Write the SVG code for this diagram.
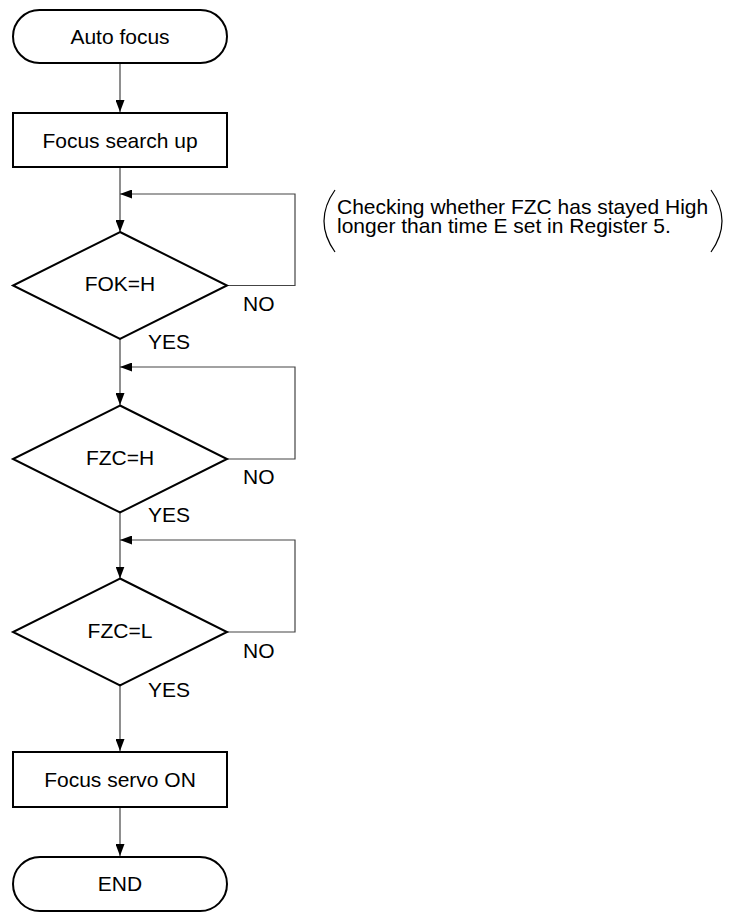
<svg xmlns="http://www.w3.org/2000/svg" width="732" height="913" viewBox="0 0 732 913">
<defs>
<style>
.shape{fill:#fff;stroke:#000;stroke-width:2}
.line{fill:none;stroke:#444;stroke-width:1.2}
text{font-family:"Liberation Sans",Arial,sans-serif;font-size:21px;fill:#000}
.c{text-anchor:middle}
</style>
<marker id="ah" viewBox="0 0 12 9" refX="12" refY="4.5" markerWidth="12" markerHeight="9" markerUnits="userSpaceOnUse" orient="auto">
<path d="M0,0 L12,4.5 L0,9 Z" fill="#000"/>
</marker>
</defs>
<rect width="732" height="913" fill="#fff"/>
<g id="connectors">
<path class="line" d="M120,63 V112" marker-end="url(#ah)"/>
<path class="line" d="M120,167 V232" marker-end="url(#ah)"/>
<path class="line" d="M227,285.5 H295 V194 H120" marker-end="url(#ah)"/>
<path class="line" d="M120,339 V405" marker-end="url(#ah)"/>
<path class="line" d="M227,459 H295 V367 H120" marker-end="url(#ah)"/>
<path class="line" d="M120,512.5 V578.5" marker-end="url(#ah)"/>
<path class="line" d="M227,632 H295 V540 H120" marker-end="url(#ah)"/>
<path class="line" d="M120,685.5 V751" marker-end="url(#ah)"/>
<path class="line" d="M120,807 V856" marker-end="url(#ah)"/>
<text x="243" y="311">NO</text>
<text x="148" y="349">YES</text>
<text x="243" y="484">NO</text>
<text x="148" y="522">YES</text>
<text x="243" y="658">NO</text>
<text x="148" y="697">YES</text>
</g>
<g id="start">
<rect class="shape" x="13" y="10" width="214" height="53" rx="26.5" ry="26.5"/>
<text class="c" x="120" y="44">Auto focus</text>
</g>
<g id="search">
<rect class="shape" x="13" y="113" width="214" height="54"/>
<text class="c" x="120" y="147.5">Focus search up</text>
</g>
<g id="fok">
<polygon class="shape" points="120,232 227,285.5 120,339 13,285.5"/>
<text class="c" x="120" y="291">FOK=H</text>
</g>
<g id="fzch">
<polygon class="shape" points="120,405.5 227,459 120,512.5 13,459"/>
<text class="c" x="120" y="464.5">FZC=H</text>
</g>
<g id="fzcl">
<polygon class="shape" points="120,578.5 227,632 120,685.5 13,632"/>
<text class="c" x="120" y="638">FZC=L</text>
</g>
<g id="servo">
<rect class="shape" x="13" y="752" width="214" height="55"/>
<text class="c" x="120" y="787">Focus servo ON</text>
</g>
<g id="end">
<rect class="shape" x="13" y="857" width="214" height="54" rx="27" ry="27"/>
<text class="c" x="120" y="891">END</text>
</g>
<g id="comment">
<path d="M335,190 Q313,221 335,252" fill="none" stroke="#000" stroke-width="1.2"/>
<path d="M711,190 Q733,221 711,252" fill="none" stroke="#000" stroke-width="1.2"/>
<text><tspan x="337" y="214">Checking whether FZC has stayed High</tspan><tspan x="337" y="233">longer than time E set in Register 5.</tspan></text>
</g>
</svg>
